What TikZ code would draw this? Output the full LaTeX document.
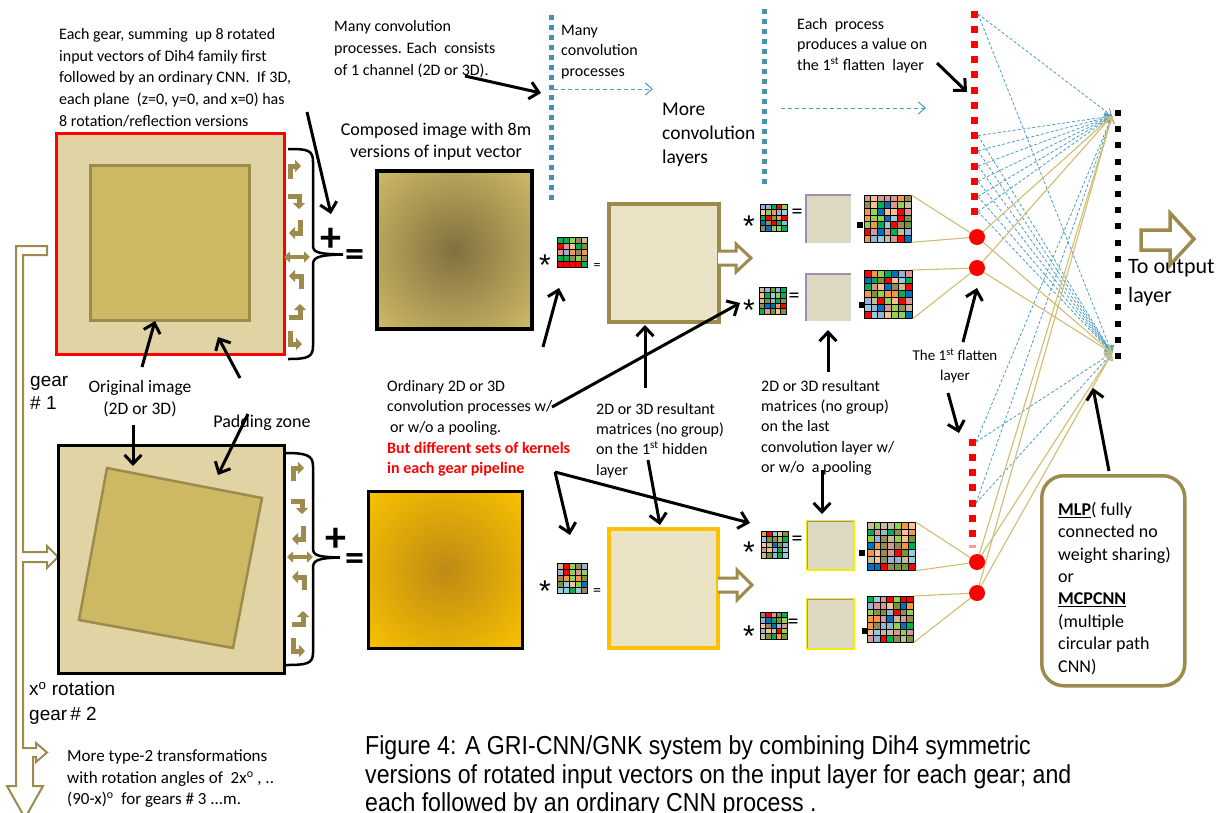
\documentclass[tikz,border=0pt]{standalone}
\usepackage{fontspec}
\setmainfont{Carlito}
\newfontfamily\arialf{Liberation Sans}
\newfontfamily\capf[FakeStretch=0.89]{Liberation Sans}
\usetikzlibrary{arrows.meta}
\definecolor{tanD}{HTML}{9C8B4C}
\definecolor{padF}{HTML}{E1D4A4}
\definecolor{innF}{HTML}{CDB864}
\definecolor{hidF}{HTML}{EBE3C5}
\definecolor{gryF}{HTML}{DDD8C1}
\definecolor{purL}{HTML}{9B90AE}
\definecolor{dotB}{HTML}{4A90B0}
\definecolor{dashB}{HTML}{4A9CC2}
\definecolor{tanL}{HTML}{D2BC72}
\definecolor{yelB}{HTML}{FFC000}
\definecolor{yelG}{HTML}{F5EE00}
\definecolor{redT}{HTML}{FF0000}
\definecolor{cmpIn}{HTML}{807040}
\definecolor{cmpOut}{HTML}{D1BC66}
\definecolor{ylwIn}{HTML}{BF8A14}
\definecolor{ylwOut}{HTML}{FAC300}
\definecolor{gc0}{HTML}{F79646}
\definecolor{gc1}{HTML}{95B3D7}
\definecolor{gc2}{HTML}{948A54}
\definecolor{gc3}{HTML}{00B050}
\definecolor{gc4}{HTML}{0070C0}
\definecolor{gc5}{HTML}{D99694}
\definecolor{gc6}{HTML}{FF0000}
\definecolor{gc7}{HTML}{92D050}
\definecolor{gc8}{HTML}{FAC090}
\definecolor{gc9}{HTML}{C4BD97}
\definecolor{gc10}{HTML}{93CDDD}
\definecolor{gc11}{HTML}{77933C}
\pgfdeclareradialshading{compA}{\pgfpoint{0bp}{0bp}}{color(0bp)=(cmpIn);color(36bp)=(cmpOut);color(50bp)=(cmpOut)}
\pgfdeclareradialshading{compB}{\pgfpoint{0bp}{0bp}}{color(0bp)=(ylwIn);color(36bp)=(ylwOut);color(50bp)=(ylwOut)}
\newcommand\cgrid[5]{%
  \foreach \gi in {0,...,#3}{\foreach \gj in {0,...,#3}{%
    \pgfmathrandominteger{\myrr}{0}{11}%
    \draw[fill=gc\myrr, line width=#5] ({#1+\gi*#4},{#2+\gj*#4}) rectangle ++(#4,#4);}}}
\begin{document}
\begin{tikzpicture}[x=1pt,y=-1pt,
  lbl/.style={inner sep=0pt, anchor=north west, align=left, execute at begin node={\rule{0pt}{0.75em}}},
  lblc/.style={lbl, anchor=north, align=center},
  arr/.style={line width=3pt, -{Straight Barb[length=9pt,width=17pt]}},
  icon/.style={tanD, line width=5pt, -{Triangle[length=6pt,width=12pt]}},
  dicon/.style={tanD, line width=4pt, {Triangle[length=6pt,width=11pt]}-{Triangle[length=6pt,width=11pt]}},
  brace/.style={line width=2.5pt, black},
  hollow/.style={tanD, line width=3pt, fill=white, line join=miter},
  fdash/.style={dashB, line width=0.8pt, dash pattern=on 3pt off 2pt, -{Straight Barb[length=6pt,width=9pt]}},
  ftan/.style={tanL, line width=1.1pt},
  ftanA/.style={ftan, -{Straight Barb[length=6pt,width=9pt]}},
  box/.style={inner sep=0pt, anchor=north west},
  sym/.style={inner sep=0pt, anchor=center},
  star/.style={sym, font={\arialf\fontsize{30}{30}\selectfont}},
]
\pgfmathsetseed{7}
\useasboundingbox (0,0) rectangle (1225,812);
\fill[white] (0,0) rectangle (1225,812);

% ---------- left trunk (hollow tan arrow) ----------
\draw[tanD, line width=2pt, fill=white, line join=miter] (16,246) -- (47,246) -- (47,255) -- (23,255) -- (23,552) -- (47,552) -- (47,546) -- (58,557) -- (47,568) -- (47,562) -- (23,562) -- (23,748) -- (36,748) -- (36,743) -- (47,752.5) -- (36,762) -- (36,757) -- (33,757) -- (33,786) -- (43,786) -- (25,818) -- (7,786) -- (16,786) -- cycle;

% ---------- gear 1 ----------
\node[box, draw=redT, line width=3pt, fill=padF, minimum width=228pt, minimum height=221pt] (g1) at (55,132) {};
\node[box, draw=tanD, line width=2.5pt, fill=innF, minimum width=159pt, minimum height=155pt] (in1) at (89,164) {};
% ---------- gear 2 ----------
\node[box, draw=black, line width=3pt, fill=padF, minimum width=226pt, minimum height=228pt] (g2) at (57,444) {};
\draw[tanD, line width=2.5pt, fill=innF] (107,468) -- (262,498) -- (233,648) -- (79,620) -- cycle;
\coordinate (in2top) at (133,466);
\coordinate (pad2) at (218,475);

% ---------- rotation icons ----------
\foreach \cx/\ya/\yb/\yc/\yd/\ye/\yf/\yg in {296/170/202/229/257/280/310/340, 299/472/507/535/557/581/617/647}{
  \draw[icon, shift={(\cx,\ya)}] (-6,9) -- (-6,-4) -- (5,-4);
  \draw[icon, shift={(\cx,\yb)}] (-8,-6) -- (3,-6) -- (3,7);
  \draw[icon, shift={(\cx,\yc)}] (4,-9) -- (4,4) -- (-7,4);
  \draw[dicon, shift={(\cx,\yd)}] (-12,0) -- (14,0);
  \draw[icon, shift={(\cx,\ye)}] (5,9) -- (5,-4) -- (-7,-4);
  \draw[icon, shift={(\cx,\yf)}] (-7,7) -- (4,7) -- (4,-6);
  \draw[icon, shift={(\cx,\yg)}] (-6,-9) -- (-6,4) -- (6,4);
}

% ---------- braces ----------
\draw[brace] (288,149) .. controls (308,149) and (313,150) .. (313,162) -- (313,245) .. controls (313,252) and (316,254) .. (343,254.5);
\draw[brace] (343,254.5) .. controls (316,255) and (313,258) .. (313,265) -- (313,346) .. controls (313,357) and (308,359) .. (288,359);
\draw[brace] (285,453) .. controls (306,453) and (313,455) .. (313,466) -- (313,548) .. controls (313,555) and (316,557) .. (340,557.5);
\draw[brace] (340,557.5) .. controls (316,558) and (313,561) .. (313,568) -- (313,653) .. controls (313,664) and (306,665) .. (285,665);
\node[sym, font={\bfseries\fontsize{42}{42}\selectfont}] (plus1) at (331,240) {+};
\node[sym, font={\bfseries\fontsize{38}{38}\selectfont}] (eq1) at (355,258) {=};
\node[sym, font={\bfseries\fontsize{42}{42}\selectfont}] (plus2) at (336,540) {+};
\node[sym, font={\bfseries\fontsize{38}{38}\selectfont}] (eq2) at (355,562) {=};

% ---------- composed images ----------
\node[box, shade, shading=compA, draw=black, line width=4pt, minimum width=155pt, minimum height=158pt] (cA) at (375,169) {};
\node[box, shade, shading=compB, draw=black, line width=3pt, minimum width=154pt, minimum height=157pt] (cB) at (367,490) {};

% ---------- hidden layer boxes ----------
\node[box, draw=tanD, line width=3.5pt, fill=hidF, minimum width=110pt, minimum height=118pt] (hA) at (607,202) {};
\node[box, draw=yelB, line width=3.5pt, fill=hidF, minimum width=109pt, minimum height=119pt] (hB) at (607,527) {};
\draw[hollow] (718,251) -- (736,251) -- (736,244) -- (751,258) -- (736,272) -- (736,265) -- (718,265);
\draw[hollow] (718,578) -- (737,578) -- (737,570) -- (752,585) -- (737,600) -- (737,592) -- (718,592);

% ---------- kernels ----------
\cgrid{557}{237}{4}{6}{0.5}
\node[box, minimum size=30pt] (kA) at (557,237) {};
\cgrid{760}{204}{4}{5.4}{0.5}
\node[box, minimum size=27pt] (kB) at (760,204) {};
\cgrid{759}{287}{4}{5.4}{0.5}
\node[box, minimum size=27pt] (kC) at (759,287) {};
\cgrid{557}{563}{4}{6}{0.5}
\node[box, minimum size=30pt] (kD) at (557,563) {};
\cgrid{761}{531}{4}{5.4}{0.5}
\node[box, minimum size=27pt] (kE) at (761,531) {};
\cgrid{760}{612}{4}{5.4}{0.5}
\node[box, minimum size=27pt] (kF) at (760,612) {};

\node[star] (sA) at (545,265) {*};
\node[sym, font=\fontsize{14}{14}\selectfont] (eA) at (597,266) {=};
\node[star] (sD) at (545,591) {*};
\node[sym, font=\fontsize{16}{16}\selectfont] (eD) at (597,592) {=};
\node[star] (sB) at (749,226) {*};
\node[sym, font=\fontsize{22}{22}\selectfont] (eB) at (797,214) {=};
\node[star] (sC) at (749,310) {*};
\node[sym, font=\fontsize{22}{22}\selectfont] (eC) at (794,298) {=};
\node[star] (sE) at (749,552) {*};
\node[sym, font=\fontsize{22}{22}\selectfont] (eE) at (797,541) {=};
\node[star] (sF) at (749,636) {*};
\node[sym, font=\fontsize{22}{22}\selectfont] (eF) at (793,624) {=};

% ---------- last conv layer matrices ----------
\node[box, fill=gryF, minimum width=45pt, minimum height=48pt] (gA) at (806,195) {};
\draw[purL, line width=2pt] (gA.south west) -- (gA.north west) -- (gA.north east);
\node[box, fill=gryF, minimum width=45pt, minimum height=47pt] (gB) at (806,274) {};
\draw[purL, line width=2pt] (gB.south west) -- (gB.north west) -- (gB.north east);
\node[box, fill=gryF, draw=yelG, line width=1.5pt, minimum width=47pt, minimum height=49pt] (gC) at (806,520) {};
\draw[purL, line width=1pt] ([shift={(1.5,-1.5)}]gC.south west) -- ([shift={(1.5,1.5)}]gC.north west) -- ([shift={(-1.5,1.5)}]gC.north east);
\node[box, fill=gryF, draw=yelG, line width=1.5pt, minimum width=47pt, minimum height=50pt] (gD) at (806,598) {};
\draw[purL, line width=1pt] ([shift={(1.5,-1.5)}]gD.south west) -- ([shift={(1.5,1.5)}]gD.north west) -- ([shift={(-1.5,1.5)}]gD.north east);
\fill (857,222) rectangle ++(6,6);
\fill (859,302) rectangle ++(6,6);
\fill (859,550) rectangle ++(6,6);
\fill (862,628) rectangle ++(6,6);

\cgrid{864}{195}{6}{6.7}{0.7}
\node[box, minimum width=46.9pt, minimum height=46.9pt] (bA) at (864,195) {};
\cgrid{864}{270}{6}{6.9}{0.7}
\node[box, minimum width=48.3pt, minimum height=48.3pt] (bB) at (864,270) {};
\cgrid{867}{522}{6}{6.9}{0.7}
\node[box, minimum width=48.3pt, minimum height=48.3pt] (bC) at (867,522) {};
\cgrid{867}{596}{6}{6.6}{0.7}
\node[box, minimum width=46.2pt, minimum height=46.2pt] (bD) at (867,596) {};

% ---------- blue dotted columns ----------
\foreach \k in {0,...,18} \fill[dotB] (549,{15+10*\k}) rectangle ++(5,5);
\foreach \k in {0,...,17} \fill[dotB] (762,{9+10*\k}) rectangle ++(5,5);
\coordinate (dc1) at (554,89);
\coordinate (dc1e) at (653,89);
\coordinate (dc2) at (781,108);
\coordinate (dc2e) at (926,108);
\draw[dashB, line width=1pt, dash pattern=on 4pt off 3pt, -{Straight Barb[length=7pt,width=12pt]}] (dc1) -- (dc1e);
\draw[dashB, line width=1pt, dash pattern=on 4pt off 3pt, -{Straight Barb[length=7pt,width=12pt]}] (dc2) -- (dc2e);

% ---------- flatten layers ----------
\foreach \k in {0,...,13} {\fill[redT] (971,{10.5+15.2*\k}) rectangle ++(7,7);
  \coordinate (rs\k) at (978,{14+15.2*\k});}
\foreach \k in {0,...,6} {\fill[redT] (969,{438.5+15.3*\k}) rectangle ++(7,7);
  \coordinate (rb\k) at (976,{442+15.3*\k});}
\fill[redT!40] (969,545) rectangle ++(7,3);
\foreach \k in {0,...,15} \fill (1115,{110+16.2*\k}) rectangle ++(6,6);
\coordinate (T) at (1112,116);
\coordinate (B) at (1112,353);
\coordinate (c1) at (977,237);
\coordinate (c2) at (977,268);
\coordinate (c3) at (977,562);
\coordinate (c4) at (977,593);

\foreach \k in {0,8,9,10,11,12,13} {\draw[fdash] (rs\k) -- (T); \draw[fdash] (rs\k) -- (B);}
\foreach \k in {0,4} {\draw[fdash] (rb\k) -- (T); \draw[fdash] (rb\k) -- (B);}

\draw[ftan] (bA.north east) -- (c1) -- (bA.south east);
\draw[ftan] (bB.north east) -- (c2) -- (bB.south east);
\draw[ftan] (bC.north east) -- (c3) -- (bC.south east);
\draw[ftan] (bD.north east) -- (c4) -- (bD.south east);
\foreach \c in {c1,c2,c3,c4} {\draw[ftanA] (\c) -- (T); \draw[ftanA] (\c) -- (B);}
\foreach \c in {c1,c2,c3,c4} \fill[redT] (\c) circle (8);

% ---------- output arrow and MLP box ----------
\draw[hollow, line width=3.5pt] (1141,230) -- (1170,230) -- (1170,213) -- (1194,239) -- (1170,265) -- (1170,250) -- (1141,250) -- cycle;
\node[box, draw=tanD, line width=3.5pt, rounded corners=22pt, fill=white, minimum width=143pt, minimum height=210pt] (mlp) at (1040,474) {};

% ---------- texts ----------
\node[lbl, font=\fontsize{16}{21.7}\selectfont] (tGear) at (59,28) {Each gear, summing\ \ up 8 rotated\\input vectors of Dih4 family\ first\\followed by an ordinary CNN.\ \ If 3D,\\each plane\ \ (z=0, y=0, and x=0) has\\8 rotation/reflection versions};
\node[lbl, font=\fontsize{16}{22}\selectfont] (tMany) at (334,20) {Many convolution\\processes. Each\ \ consists\\of 1 channel (2D or 3D).};
\node[lbl, font=\fontsize{16}{20.3}\selectfont] (tMany2) at (561,25) {Many\\convolution\\processes};
\node[lbl, font=\fontsize{19.5}{24}\selectfont] (tMore) at (662,103) {More\\convolution\\layers};
\node[lbl, font=\fontsize{16}{20.5}\selectfont] (tEach) at (797,18) {Each\ \ process\\produces a value on\\the 1\textsuperscript{st} flatten\ \ layer};
\node[lblc, font=\fontsize{18}{21.5}\selectfont] (tComp) at (436,123) {Composed image with 8m\\versions of input vector};
\node[lblc, font=\fontsize{17.5}{22}\selectfont] (tOrig) at (140,380) {Original image\\(2D or 3D)};
\node[lblc, font=\fontsize{18}{22}\selectfont] (tPad) at (262,414) {Padding zone};
\node[lbl, font={\arialf\fontsize{19}{23}\selectfont}] (tG1) at (30,376) {gear\\\# 1};
\node[lbl, font={\arialf\fontsize{19}{25}\selectfont}] (tG2) at (29,682) {x\textsuperscript{o} rotation\\gear\,\# 2};
\node[lbl, font=\fontsize{17}{21.5}\selectfont] (tMoreT) at (67,750) {More type-2 transformations\\with rotation angles of\ \ 2x\textsuperscript{o} , ..\\(90-x)\textsuperscript{o}\ \ for gears \# 3 ...m.};
\node[lbl, font={\capf\fontsize{26}{28.5}\selectfont}] (tCap) at (365,735.5) {Figure 4: A GRI-CNN/GNK system by combining Dih4 symmetric\\versions of rotated input vectors on the input layer for each gear; and\\each followed by an ordinary CNN process .};
\node[lbl, font=\fontsize{16}{20.6}\selectfont] (tOrd) at (387,380) {Ordinary 2D or 3D\\convolution processes w/\\\hspace*{3pt}or w/o a pooling.\\\textcolor{redT}{\bfseries But different sets of kernels}\\\textcolor{redT}{\bfseries in each gear pipeline}};
\node[lbl, font=\fontsize{16}{20.3}\selectfont] (tHid) at (596,403) {2D or 3D resultant\\matrices (no group)\\on the 1\textsuperscript{st} hidden\\layer};
\node[lbl, font=\fontsize{16}{20.3}\selectfont] (tLast) at (761,380) {2D or 3D resultant\\matrices (no group)\\on the last\\convolution layer w/\\or w/o\ \ a pooling};
\node[lblc, font=\fontsize{15}{20}\selectfont] (tFlat) at (955,348.5) {The 1\textsuperscript{st} flatten\\layer};
\node[lbl, font=\fontsize{18}{22.4}\selectfont] (tMLP) at (1058,502) {\underline{\textbf{MLP}}( fully\\connected no\\weight sharing)\\or\\\underline{\textbf{MCPCNN}}\\(multiple\\circular path\\CNN)};
\node[lbl, font=\fontsize{22}{29}\selectfont] (tOut) at (1128,259) {To output\\layer};

% ---------- black annotation arrows ----------
\coordinate (a1s) at (465,76);   \coordinate (a1e) at (541,93);
\coordinate (a2s) at (307,112);  \coordinate (a2e) at (331,214);
\coordinate (a3s) at (142,367);  \coordinate (a3e) at (155,321);
\coordinate (a4s) at (240,378);  \coordinate (a4e) at (218,337);
\coordinate (a5s) at (133,425);
\coordinate (a6s) at (248,414);
\coordinate (a7s) at (543,347);  \coordinate (a7e) at (559,288);
\coordinate (a8s) at (552,407);  \coordinate (a8e) at (740,303);
\coordinate (a9s) at (645,388);  \coordinate (a9e) at (645,325);
\coordinate (a10s) at (828,372); \coordinate (a10e) at (828,330);
\coordinate (a11s) at (555,472); \coordinate (a11e) at (570,535);
\coordinate (a12e) at (750,523);
\coordinate (a13s) at (648,460); \coordinate (a13e) at (660,525);
\coordinate (a14s) at (822,470); \coordinate (a14e) at (822,514);
\coordinate (a15s) at (937,63);  \coordinate (a15e) at (967,92);
\coordinate (a16s) at (963,342); \coordinate (a16e) at (977,288);
\coordinate (a17s) at (948,393); \coordinate (a17e) at (959,433);
\coordinate (a18s) at (1109,471); \coordinate (a18e) at (1093,388);
\draw[arr] (a1s) -- (a1e);
\draw[arr] (a2s) -- (a2e);
\draw[arr] (a3s) -- (a3e);
\draw[arr] (a4s) -- (a4e);
\draw[arr] (a5s) -- (in2top);
\draw[arr] (a6s) -- (pad2);
\draw[arr] (a7s) -- (a7e);
\draw[arr] (a8s) -- (a8e);
\draw[arr] (a9s) -- (a9e);
\draw[arr] (a10s) -- (a10e);
\draw[arr] (a11s) -- (a11e);
\draw[arr] (a11s) -- (a12e);
\draw[arr] (a13s) -- (a13e);
\draw[arr] (a14s) -- (a14e);
\draw[arr] (a15s) -- (a15e);
\draw[arr] (a16s) -- (a16e);
\draw[arr] (a17s) -- (a17e);
\draw[arr] (a18s) -- (a18e);
\end{tikzpicture}
\end{document}
